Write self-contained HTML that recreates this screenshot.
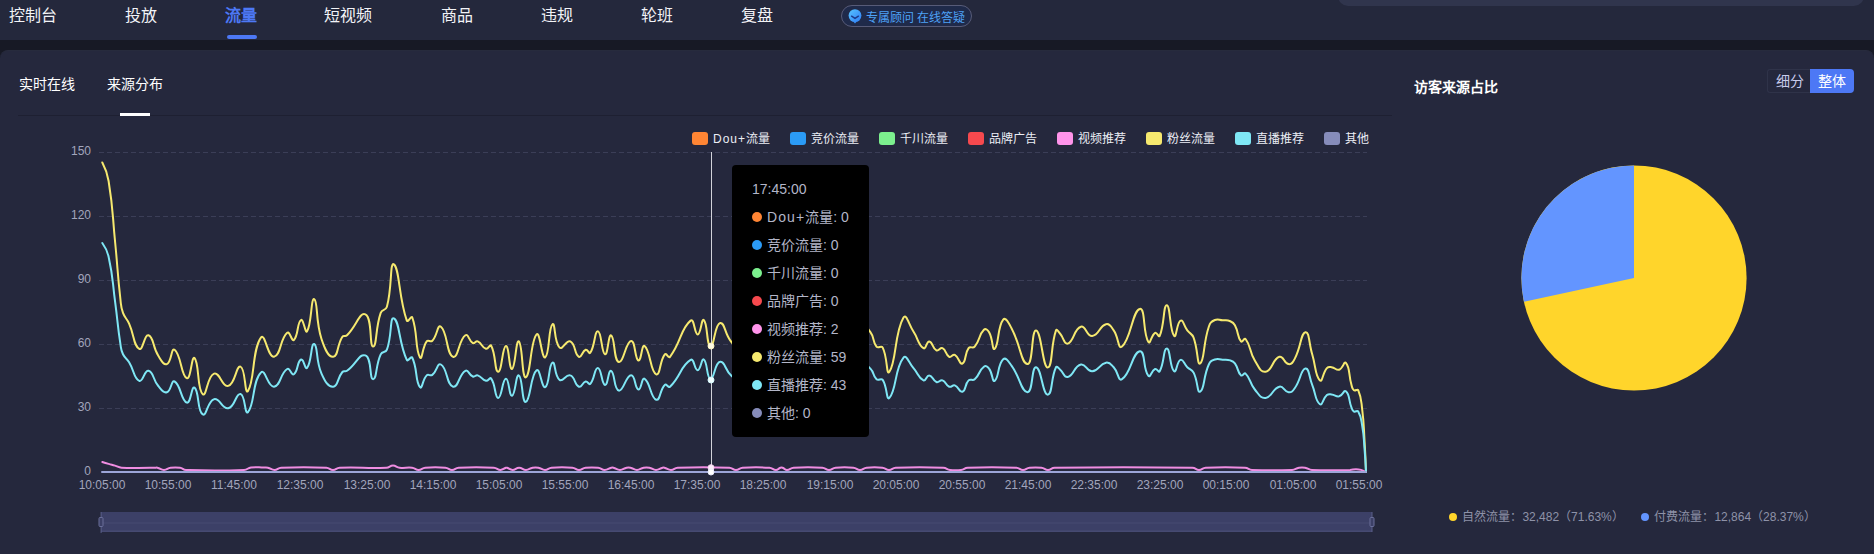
<!DOCTYPE html>
<html lang="zh-CN">
<head>
<meta charset="utf-8">
<title>流量</title>
<style>
*{box-sizing:border-box;margin:0;padding:0}
html,body{width:1874px;height:554px;overflow:hidden;background:#171925}
body{position:relative;font-family:"Liberation Sans",sans-serif;color:#fff}
.nav{position:absolute;left:0;top:0;width:1874px;height:40px;background:#24283c}
.nav .it{position:absolute;top:5px;height:22px;line-height:22px;font-size:16px;color:#f2f3f7;white-space:nowrap}
.nav .it.on{color:#4d78f5;font-weight:bold}
.nav .bar{position:absolute;left:227px;top:35px;width:30px;height:4px;border-radius:2px;background:#4d78f5}
.pill{position:absolute;left:841px;top:5px;width:131px;height:22px;border:1px solid #575b78;border-radius:11px;background:#1f2a4a}
.pill svg{position:absolute;left:6px;top:3px}
.pill span{position:absolute;left:24px;top:1.5px;height:20px;line-height:20px;font-size:12px;color:#4ea2f7;white-space:nowrap}
.topbox{position:absolute;left:1338px;top:-14px;width:526px;height:20px;border-radius:10px;background:#30354d}
.card{position:absolute;left:0;top:50px;width:1874px;height:520px;background:#25283d;border-radius:8px 8px 0 0;border-top:1px solid #272b3d}
.tab{position:absolute;top:74px;height:20px;line-height:20px;font-size:14px;color:#fff;white-space:nowrap}
.tabbar{position:absolute;left:120px;top:113px;width:30px;height:3px;background:#fff}
.divider{position:absolute;left:18px;top:115px;width:1374px;height:1px;background:#1e2032}
.title{position:absolute;left:1414px;top:77px;height:20px;line-height:20px;font-size:14px;font-weight:bold;color:#fff;white-space:nowrap}
.tg{position:absolute;top:69px;height:24px;line-height:22px;font-size:14px;text-align:center;white-space:nowrap}
.tg.a{left:1767px;width:44px;border:1px solid #2f3349;border-right:0;border-radius:3px 0 0 3px;color:#c9ccec}
.tg.b{left:1810px;width:44px;background:#4d78f5;color:#fff;border-radius:0 4px 4px 0;line-height:24px}
.ylab{position:absolute;left:50px;width:41px;text-align:right;font-size:12px;line-height:14px;height:14px;color:#a2a5bc}
.xlab{position:absolute;top:478px;width:66px;text-align:center;font-size:12px;line-height:14px;height:14px;color:#a2a5bc;white-space:nowrap}
.lg{position:absolute;top:130px;height:16px;line-height:16px;font-size:12px;color:#eceef5;white-space:nowrap}
.lg i{position:absolute;left:0;top:2px;width:16px;height:13px;border-radius:3px}
.lg span{position:absolute;left:21px;top:0.5px}
.tip{position:absolute;left:732px;top:165px;width:137px;height:272px;background:#000;border-radius:4px;padding:10px 20px;font-size:14px;line-height:28px;color:#b3b6c8;white-space:nowrap}
.tip i{display:inline-block;width:10px;height:10px;border-radius:50%;margin-right:5px;vertical-align:0}
.plg{position:absolute;top:509px;height:16px;line-height:16px;font-size:12px;color:#8e92a8;white-space:nowrap}
.plg i{position:absolute;left:-13px;top:4px;width:8px;height:8px;border-radius:50%}
svg.chart{position:absolute;left:0;top:0}
</style>
</head>
<body>
<div class="nav">
  <div class="it" style="left:9px">控制台</div>
  <div class="it" style="left:125px">投放</div>
  <div class="it on" style="left:225px">流量</div>
  <div class="it" style="left:324px">短视频</div>
  <div class="it" style="left:441px">商品</div>
  <div class="it" style="left:541px">违规</div>
  <div class="it" style="left:641px">轮班</div>
  <div class="it" style="left:741px">复盘</div>
  <div class="bar"></div>
  <div class="pill">
    <svg width="14" height="15" viewBox="0 0 14 15"><defs><linearGradient id="pg" x1="0" y1="0" x2="1" y2="1"><stop offset="0" stop-color="#58c4ff"/><stop offset="1" stop-color="#2f7df6"/></linearGradient></defs><circle cx="7" cy="6.6" r="6.4" fill="url(#pg)"/><path d="M5 12.2L7 14.4L9 12.2Z" fill="#3a8ef8"/><path d="M3.6 7.2L7 9.4L10.4 7.2" fill="none" stroke="#1d3a8a" stroke-width="1.5" stroke-linecap="round" stroke-linejoin="round"/></svg>
    <span>专属顾问 在线答疑</span>
  </div>
  <div class="topbox"></div>
</div>
<div class="card"></div>
<div class="tab" style="left:19px">实时在线</div>
<div class="tab" style="left:107px">来源分布</div>
<div class="divider"></div>
<div class="tabbar"></div>
<div class="title">访客来源占比</div>
<div class="tg a">细分</div>
<div class="tg b">整体</div>

<div class="ylab" style="top:144px">150</div>
<div class="ylab" style="top:208px">120</div>
<div class="ylab" style="top:272px">90</div>
<div class="ylab" style="top:336px">60</div>
<div class="ylab" style="top:400px">30</div>
<div class="ylab" style="top:464px">0</div>

<svg class="chart" width="1874" height="554" viewBox="0 0 1874 554">
  <g stroke="#3b3e57" stroke-width="1" stroke-dasharray="5 3" fill="none">
    <path d="M99 152.5H1367"/><path d="M99 216.5H1367"/><path d="M99 280.5H1367"/><path d="M99 344.5H1367"/><path d="M99 408.5H1367"/>
  </g>
  <path d="M711.5 152V472" stroke="#d2d3da" stroke-width="1" fill="none"/>
  <g fill="none" stroke-width="2" stroke-linejoin="round" stroke-linecap="round">
    <path d="M102.3 462.0C102.3 462.0 105.4 463.0 108.6 463.9C111.8 464.8 111.8 464.7 115.0 465.6C118.3 466.6 118.1 467.5 121.5 467.7C135.6 468.6 135.8 467.7 150.0 467.7C152.5 467.7 152.5 467.7 155.0 467.7C156.2 467.7 156.2 467.5 157.4 467.7C160.7 468.5 160.7 469.9 164.0 469.9C167.3 469.9 167.2 468.2 170.6 467.7C175.2 467.1 175.4 467.1 180.0 467.7C183.1 468.2 182.8 469.8 186.0 469.9C214.8 470.8 215.2 470.9 244.0 469.9C247.7 469.7 247.4 468.0 251.0 467.5C257.4 466.8 257.5 467.4 264.0 467.5C266.0 467.6 266.0 467.3 267.9 467.7C271.3 468.5 271.2 469.9 274.5 469.9C277.8 469.9 277.7 467.9 281.1 467.7C303.6 466.8 303.9 466.8 326.4 467.7C329.8 467.9 329.7 469.9 333.0 469.9C336.3 469.9 336.2 467.9 339.6 467.7C362.9 466.8 363.1 468.7 386.4 467.7C389.8 467.6 389.7 465.6 393.0 465.6C396.3 465.6 396.2 467.4 399.6 467.7C405.7 468.4 405.9 467.1 412.0 467.7C415.4 468.1 415.3 469.9 418.6 469.9C421.9 469.9 421.8 468.0 425.2 467.7C435.2 467.0 435.4 467.0 445.4 467.7C448.8 468.0 448.7 469.9 452.0 469.9C455.3 469.9 455.2 467.9 458.6 467.7C476.1 466.9 476.4 466.9 493.9 467.7C497.3 467.9 497.2 469.9 500.5 469.9C503.2 469.9 503.2 468.6 505.9 467.7C506.5 467.6 506.5 467.6 507.1 467.7C509.8 468.6 509.8 469.9 512.5 469.9C515.8 469.9 515.8 467.7 519.1 467.7C522.5 467.7 522.6 469.9 526.0 469.9C529.3 469.9 529.2 468.3 532.6 467.7C535.4 467.3 535.6 467.3 538.4 467.7C541.8 468.3 541.7 469.9 545.0 469.9C548.3 469.9 548.2 468.0 551.6 467.7C561.9 466.9 562.1 466.9 572.4 467.7C575.8 468.0 575.7 469.9 579.0 469.9C582.3 469.9 582.2 468.1 585.6 467.7C591.7 467.1 592.0 467.1 598.1 467.7C601.5 468.1 601.4 469.9 604.7 469.9C608.0 469.9 608.0 468.6 611.3 467.7C612.3 467.5 612.4 467.5 613.4 467.7C616.7 468.6 616.7 469.9 620.0 469.9C623.3 469.9 623.2 468.4 626.6 467.7C628.4 467.4 628.6 467.4 630.4 467.7C633.8 468.4 633.7 469.9 637.0 469.9C640.3 469.9 640.2 468.3 643.6 467.7C646.4 467.3 646.6 467.3 649.4 467.7C652.8 468.3 652.7 469.9 656.0 469.9C659.3 469.9 659.3 468.6 662.6 467.7C663.5 467.5 663.5 467.5 664.4 467.7C667.7 468.6 667.7 469.9 671.0 469.9C674.3 469.9 674.2 467.9 677.6 467.7C703.4 466.8 703.6 466.8 729.4 467.7C732.8 467.9 732.7 469.9 736.0 469.9C739.3 469.9 739.2 468.0 742.6 467.7C755.9 466.9 756.1 466.9 769.4 467.7C772.8 468.0 772.8 469.9 776.0 469.9C778.3 469.9 778.1 468.5 780.4 467.7C781.4 467.4 781.6 467.4 782.6 467.7C784.9 468.5 784.7 469.9 787.0 469.9C790.2 469.9 790.2 468.0 793.6 467.7C807.9 466.9 808.1 466.9 822.4 467.7C825.8 468.0 825.7 469.9 829.0 469.9C832.3 469.9 832.2 468.0 835.6 467.7C844.4 467.0 844.6 467.0 853.4 467.7C856.8 468.0 856.7 469.9 860.0 469.9C863.3 469.9 863.2 468.1 866.6 467.7C874.4 467.0 874.6 467.0 882.4 467.7C885.8 468.1 885.7 469.9 889.0 469.9C892.3 469.9 892.2 467.9 895.6 467.7C919.4 466.8 919.6 466.8 943.4 467.7C946.8 467.9 946.6 469.5 950.0 469.9C955.4 470.5 955.6 470.5 961.0 469.9C964.4 469.5 964.2 467.9 967.6 467.7C991.9 466.8 992.1 466.8 1016.4 467.7C1019.8 467.9 1019.7 469.9 1023.0 469.9C1026.3 469.9 1026.2 468.1 1029.6 467.7C1035.4 467.1 1035.6 467.1 1041.4 467.7C1044.8 468.1 1044.7 469.9 1048.0 469.9C1051.3 469.9 1051.1 467.8 1054.6 467.7C1123.3 466.7 1123.7 466.7 1192.4 467.7C1195.9 467.8 1195.7 469.9 1199.0 469.9C1202.3 469.9 1202.2 467.9 1205.6 467.7C1225.2 466.8 1225.4 466.8 1245.0 467.7C1248.6 467.9 1248.4 469.7 1252.0 469.9C1271.9 470.8 1272.1 470.8 1292.0 469.9C1295.6 469.7 1295.4 468.3 1299.0 467.7C1301.9 467.3 1302.1 467.3 1305.0 467.7C1308.6 468.3 1308.4 469.7 1312.0 469.9C1330.9 470.8 1331.0 470.1 1350.0 469.9C1353.0 469.8 1353.0 469.2 1356.0 469.2C1358.5 469.2 1358.6 469.2 1361.0 469.9C1363.6 470.6 1366.0 472.0 1366.0 472.0" stroke="#f08de2"/>
    <path d="M102.3 162.5C102.3 162.5 107.1 171.4 108.6 181.0C113.5 211.6 112.1 212.0 115.2 243.0C118.0 271.5 117.3 271.6 120.5 300.0C121.2 306.5 120.8 306.8 123.0 312.9C125.1 318.6 126.6 318.0 129.1 323.6C134.7 336.0 133.2 345.2 139.3 348.8C142.9 351.0 144.5 333.8 148.5 335.3C154.0 337.3 152.3 346.4 158.3 355.8C161.5 360.8 163.5 365.4 166.9 364.1C171.6 362.4 171.1 347.3 174.6 349.7C181.1 354.3 181.0 375.8 186.8 378.2C190.9 379.9 191.6 355.1 194.5 358.0C199.5 363.0 196.8 389.4 202.8 394.2C206.6 397.2 207.0 375.9 214.1 373.6C219.8 371.8 222.3 387.5 228.2 385.9C235.5 384.0 235.9 365.4 240.5 366.6C245.7 368.0 244.6 395.7 247.9 391.1C254.9 381.2 251.9 349.5 261.1 337.4C264.9 332.4 268.0 357.8 274.0 356.8C281.0 355.5 279.8 339.1 287.2 332.8C289.8 330.6 291.7 341.9 293.9 339.9C298.6 335.5 296.9 322.6 301.0 320.0C303.5 318.3 305.2 334.2 307.1 331.3C311.8 323.8 310.9 297.4 314.2 299.1C318.1 301.2 315.3 320.1 321.5 339.0C324.8 348.9 328.0 357.3 333.2 356.8C338.5 356.2 336.7 345.6 342.4 336.8C343.6 334.9 345.3 337.0 347.0 335.3C356.8 325.8 359.4 311.8 365.4 314.4C372.5 317.5 369.3 347.0 373.1 346.6C377.0 346.3 375.2 328.8 380.7 312.9C382.1 308.9 385.8 310.8 386.9 306.8C392.4 286.6 389.7 261.5 393.9 264.4C399.6 268.4 398.5 296.6 406.8 320.6C407.7 323.2 411.4 315.0 412.3 317.5C418.0 333.4 414.9 349.0 420.0 357.4C422.2 361.0 422.1 347.7 426.7 341.4C428.2 339.4 430.5 342.7 432.3 340.8C437.6 335.3 437.3 324.0 440.9 326.7C447.8 332.0 446.2 354.3 453.1 356.8C458.4 358.6 458.5 340.1 465.4 335.3C468.4 333.2 468.6 340.9 472.8 343.0C474.8 344.0 475.6 340.5 477.7 341.4C482.2 343.4 481.6 347.4 486.0 348.8C488.3 349.6 490.1 343.6 491.2 345.7C496.2 355.1 494.5 371.7 498.2 371.8C501.9 371.9 502.2 346.8 505.9 346.0C509.1 345.4 509.1 370.1 512.0 369.0C515.5 367.8 515.8 339.6 518.8 341.4C522.7 343.8 521.8 378.9 525.8 377.3C530.7 375.4 530.4 340.8 536.6 334.4C540.0 330.8 541.8 359.5 545.2 357.4C549.8 354.4 548.3 327.1 552.5 324.2C555.6 322.2 553.7 341.9 559.6 347.6C562.6 350.5 566.3 339.5 570.3 341.4C576.0 344.1 574.0 354.1 578.9 356.8C581.7 358.2 582.1 351.0 585.7 349.7C587.7 349.0 589.1 354.6 590.3 352.8C595.2 345.4 594.4 330.9 597.9 331.3C601.7 331.7 601.4 353.2 605.0 354.3C608.0 355.2 608.3 333.7 611.1 335.3C615.2 337.5 613.5 360.4 618.8 362.0C623.5 363.3 625.8 341.5 631.1 341.1C635.6 340.8 634.6 359.1 638.4 360.5C641.4 361.5 641.6 343.7 644.6 346.0C650.5 350.6 650.3 371.8 656.2 374.3C660.4 376.0 659.4 361.2 664.8 354.3C666.3 352.5 668.5 358.8 670.0 356.8C681.4 341.9 680.5 328.7 690.6 320.6C694.4 317.5 694.4 334.5 697.7 334.4C701.0 334.2 701.4 317.8 703.8 320.0C707.9 323.6 706.3 345.2 710.5 346.0C714.5 346.8 714.5 324.1 720.1 323.0C725.0 322.1 724.3 333.8 731.4 342.0C736.8 348.3 740.7 354.5 745.0 352.0C751.0 348.5 748.1 330.5 752.0 330.0C755.6 329.5 756.2 351.7 760.0 350.0C765.2 347.7 764.8 322.5 770.0 322.0C774.8 321.5 775.3 348.9 780.0 348.0C785.3 346.9 784.8 318.8 790.0 318.0C794.8 317.3 793.9 343.1 800.0 345.0C804.9 346.6 805.8 326.4 812.0 325.0C816.8 323.9 817.2 341.4 822.0 340.0C828.7 337.9 828.3 318.5 835.0 318.0C841.3 317.5 841.6 336.9 848.0 338.0C853.1 338.9 852.0 323.6 858.0 322.0C863.1 320.7 865.7 326.0 870.4 332.2C875.0 338.3 872.1 341.1 876.5 346.6C878.3 348.8 881.4 345.1 882.7 347.6C887.8 357.7 886.2 376.5 889.4 371.8C896.6 361.4 894.3 333.1 903.5 317.5C906.3 312.8 908.7 324.2 913.3 331.3C918.7 339.5 918.0 344.7 923.5 348.2C926.0 349.8 926.5 341.0 929.3 341.4C932.9 342.0 932.2 348.2 936.4 350.3C938.8 351.6 940.1 347.0 942.5 348.2C946.5 350.2 945.2 354.6 949.2 356.8C951.4 357.9 952.6 353.8 954.8 354.9C959.1 357.2 959.6 364.9 962.4 363.5C966.5 361.5 964.1 354.3 968.6 348.2C970.3 345.8 972.8 348.9 974.7 346.6C980.5 339.7 978.4 335.3 983.9 329.8C985.6 328.1 987.8 329.9 989.1 332.2C993.2 339.4 992.1 351.1 994.7 348.8C999.1 344.8 997.2 327.0 1003.2 319.6C1005.6 316.7 1008.7 323.1 1011.5 328.2C1020.8 345.3 1021.0 363.6 1027.5 364.1C1033.2 364.6 1031.3 329.6 1036.1 330.4C1041.4 331.3 1042.7 367.5 1047.7 367.5C1052.7 367.5 1050.6 345.4 1056.0 330.4C1056.7 328.4 1058.3 331.6 1060.0 333.5C1064.2 338.2 1063.8 344.8 1067.7 343.6C1074.2 341.5 1073.6 329.0 1080.9 326.7C1085.8 325.1 1086.6 336.5 1092.2 335.9C1099.2 335.2 1099.1 326.0 1106.0 324.2C1109.8 323.3 1110.9 326.5 1113.7 330.4C1118.9 337.7 1118.0 349.9 1122.0 346.6C1131.0 339.2 1132.5 310.2 1139.8 308.9C1145.7 307.9 1142.6 333.1 1148.4 342.0C1150.3 345.0 1151.3 334.9 1155.1 332.8C1157.0 331.8 1158.8 338.0 1159.7 335.9C1164.7 324.2 1163.2 305.2 1166.8 305.2C1170.4 305.2 1169.6 330.9 1174.1 335.9C1176.5 338.6 1176.7 322.2 1180.6 320.6C1183.3 319.4 1183.7 325.7 1187.3 330.4C1190.2 334.1 1191.8 333.2 1193.5 337.4C1198.2 349.7 1197.0 365.8 1200.2 363.5C1204.7 360.4 1202.9 344.3 1208.8 326.7C1210.2 322.5 1211.2 321.7 1214.9 320.0C1218.1 318.5 1218.8 320.0 1222.6 320.3C1226.5 320.6 1226.8 319.8 1230.3 321.2C1233.0 322.3 1233.5 322.5 1234.9 325.2C1238.9 332.7 1236.9 336.1 1241.0 341.4C1242.3 343.0 1244.4 337.2 1245.6 339.0C1251.3 346.7 1248.8 350.6 1254.8 360.5C1258.8 367.0 1260.2 372.6 1265.6 371.8C1272.5 370.8 1272.1 359.2 1279.4 356.8C1283.6 355.4 1284.0 363.5 1288.6 364.1C1291.7 364.6 1292.9 362.4 1294.7 358.9C1301.3 346.5 1300.6 333.5 1305.4 332.2C1309.3 331.2 1308.9 343.3 1312.2 354.3C1316.1 367.3 1315.0 375.9 1319.9 380.4C1322.4 382.8 1322.5 373.1 1326.9 368.1C1328.4 366.5 1329.3 366.9 1331.5 367.2C1335.4 367.7 1335.9 370.6 1339.2 369.7C1343.1 368.5 1344.1 360.6 1345.9 362.9C1350.3 368.3 1348.3 374.1 1351.5 385.0C1352.3 387.8 1352.0 388.7 1353.9 390.2C1355.4 391.3 1357.5 388.5 1358.2 390.2C1361.6 398.1 1361.0 399.8 1362.2 409.5C1364.1 424.7 1363.6 424.8 1364.5 440.0C1365.5 456.0 1366.0 472.0 1366.0 472.0" stroke="#f6e96f"/>
    <path d="M102.3 243.0C102.3 243.0 107.0 249.4 108.6 256.7C113.5 279.1 112.1 279.6 115.2 302.5C118.0 323.6 117.3 323.7 120.5 344.7C121.2 349.6 120.9 349.9 123.0 354.3C125.2 358.7 126.5 357.9 129.1 362.2C134.7 371.2 133.4 378.2 139.3 380.8C143.0 382.5 144.4 369.7 148.5 370.8C153.9 372.3 152.5 379.3 158.3 386.0C161.7 390.0 163.3 393.2 166.9 392.2C171.4 390.9 171.1 379.7 174.6 381.5C181.0 384.9 180.9 400.8 186.8 402.6C190.9 403.9 191.5 385.4 194.5 387.6C199.5 391.3 196.9 411.0 202.8 414.4C206.7 416.8 207.4 400.8 214.1 399.2C220.1 397.8 222.0 409.5 228.2 408.3C235.2 406.9 235.7 393.0 240.5 394.0C245.5 395.0 244.6 415.6 247.9 412.2C254.9 404.8 252.1 381.1 261.1 372.4C265.2 368.4 267.9 387.5 274.0 386.7C280.9 385.8 280.0 373.5 287.2 369.0C289.9 367.3 291.5 375.9 293.9 374.2C298.4 371.1 296.9 361.4 301.0 359.5C303.5 358.2 305.1 370.2 307.1 367.9C311.7 362.4 310.9 342.8 314.2 344.0C318.1 345.6 315.5 360.0 321.5 373.6C325.0 381.4 327.9 387.1 333.2 386.7C338.4 386.3 337.0 378.2 342.4 372.0C343.9 370.3 345.1 372.2 347.0 370.8C356.6 363.9 359.0 353.3 365.4 355.4C372.0 357.5 369.3 379.5 373.1 379.2C377.0 378.9 375.4 365.7 380.7 354.3C382.3 350.9 385.6 353.2 386.9 349.7C392.2 335.2 389.7 316.2 393.9 318.4C399.7 321.3 398.7 342.7 406.8 359.9C407.9 362.3 411.2 355.4 412.3 357.7C417.8 369.1 415.0 381.1 420.0 387.2C422.2 389.9 422.4 379.7 426.7 375.4C428.5 373.6 430.2 376.5 432.3 374.9C437.3 371.1 437.2 362.4 440.9 364.5C447.7 368.3 446.3 385.0 453.1 386.7C458.6 388.1 458.7 374.3 465.4 370.8C468.5 369.2 468.8 375.0 472.8 376.5C474.9 377.3 475.5 374.7 477.7 375.4C482.1 376.8 481.7 379.8 486.0 380.8C488.4 381.4 489.8 376.7 491.2 378.6C496.0 385.2 494.6 397.8 498.2 397.9C501.9 397.9 502.2 379.3 505.9 378.8C509.1 378.3 509.1 396.6 512.0 395.8C515.5 394.9 515.8 374.0 518.8 375.4C522.7 377.1 521.8 403.1 525.8 401.9C530.7 400.5 530.4 374.9 536.6 370.2C540.1 367.5 541.8 388.8 545.2 387.2C549.7 385.0 548.4 364.8 552.5 362.7C555.6 361.1 554.1 376.0 559.6 379.9C563.0 382.4 566.0 373.8 570.3 375.4C575.6 377.2 574.1 384.8 578.9 386.7C581.8 387.9 582.1 382.4 585.7 381.5C587.8 381.0 588.9 385.3 590.3 383.8C595.0 378.5 594.3 367.6 597.9 367.9C601.7 368.2 601.4 384.1 605.0 384.9C608.0 385.6 608.2 369.6 611.1 370.8C615.1 372.5 613.6 389.5 618.8 390.6C623.6 391.6 625.7 375.5 631.1 375.2C635.5 374.9 634.6 388.4 638.4 389.5C641.4 390.2 641.6 377.0 644.6 378.8C650.5 382.2 650.3 397.9 656.2 399.7C660.5 400.9 659.6 389.8 664.8 384.9C666.5 383.3 668.2 388.5 670.0 386.7C681.1 376.0 680.5 366.0 690.6 359.9C694.3 357.7 694.3 370.3 697.7 370.2C700.9 370.0 701.4 357.9 703.8 359.5C707.8 362.2 706.4 378.2 710.5 378.8C714.5 379.3 714.6 362.5 720.1 361.8C725.1 361.0 724.7 370.1 731.4 375.8C737.2 380.8 740.2 385.3 745.0 383.2C750.5 380.8 748.2 367.3 752.0 366.9C755.7 366.6 756.2 383.0 760.0 381.7C765.2 380.0 764.9 361.4 770.0 361.0C774.9 360.6 775.3 380.9 780.0 380.2C785.3 379.5 784.8 358.6 790.0 358.0C794.8 357.5 794.1 376.6 800.0 378.0C805.1 379.2 805.8 364.3 812.0 363.2C816.8 362.4 817.2 375.4 822.0 374.3C828.7 372.8 828.3 358.4 835.0 358.0C841.3 357.7 841.6 372.0 848.0 372.8C853.1 373.5 852.2 362.1 858.0 361.0C863.4 360.0 865.4 363.6 870.4 368.6C874.6 372.7 872.4 375.5 876.5 379.2C878.6 381.1 881.1 377.6 882.7 379.9C887.5 387.0 886.2 401.3 889.4 397.9C896.6 390.2 894.5 368.9 903.5 357.7C906.5 353.9 908.7 362.6 913.3 367.9C918.6 373.9 918.1 377.8 923.5 380.4C926.0 381.6 926.4 375.0 929.3 375.4C932.9 375.8 932.4 380.5 936.4 382.0C939.0 383.0 939.9 379.4 942.5 380.4C946.3 381.8 945.4 385.2 949.2 386.7C951.6 387.7 952.4 384.5 954.8 385.4C959.0 387.0 959.4 392.8 962.4 391.7C966.3 390.3 964.4 384.6 968.6 380.4C970.6 378.3 972.5 381.2 974.7 379.2C980.2 374.4 978.6 370.7 983.9 366.7C985.8 365.3 987.6 366.5 989.1 368.6C992.9 373.6 992.1 382.5 994.7 380.8C999.1 377.9 997.4 364.5 1003.2 359.3C1005.9 356.9 1008.5 361.5 1011.5 365.6C1020.6 377.9 1020.9 391.7 1027.5 392.2C1033.1 392.5 1031.3 366.6 1036.1 367.2C1041.4 367.9 1042.6 394.7 1047.7 394.7C1052.6 394.7 1050.7 378.1 1056.0 367.2C1056.9 365.5 1058.3 368.0 1060.0 369.5C1064.1 372.9 1063.8 377.9 1067.7 377.0C1074.2 375.4 1073.8 366.1 1080.9 364.5C1086.0 363.3 1086.6 371.7 1092.2 371.3C1099.2 370.8 1099.1 364.0 1106.0 362.7C1109.8 361.9 1110.7 364.1 1113.7 367.2C1118.6 372.4 1118.0 381.7 1122.0 379.2C1131.0 373.7 1132.4 352.3 1139.8 351.3C1145.6 350.6 1142.8 369.4 1148.4 375.8C1150.4 378.2 1151.4 370.5 1155.1 369.0C1157.1 368.2 1158.7 373.1 1159.7 371.3C1164.5 362.9 1163.2 348.6 1166.8 348.6C1170.4 348.6 1169.7 367.6 1174.1 371.3C1176.6 373.3 1176.8 361.1 1180.6 359.9C1183.4 359.1 1183.8 363.8 1187.3 367.2C1190.2 370.0 1191.6 369.0 1193.5 372.4C1198.1 381.2 1197.0 393.4 1200.2 391.7C1204.7 389.4 1203.0 377.1 1208.8 364.5C1210.4 361.0 1211.4 360.7 1214.9 359.5C1218.3 358.3 1218.8 359.5 1222.6 359.7C1226.4 359.9 1226.7 359.3 1230.3 360.4C1232.8 361.1 1233.3 361.2 1234.9 363.3C1238.7 368.7 1237.1 371.6 1241.0 375.4C1242.5 376.7 1244.2 372.1 1245.6 373.6C1251.1 379.1 1249.1 382.5 1254.8 389.5C1259.1 394.6 1260.2 398.4 1265.6 397.9C1272.5 397.1 1272.2 388.5 1279.4 386.7C1283.7 385.7 1284.0 391.7 1288.6 392.2C1291.7 392.5 1292.7 391.2 1294.7 388.3C1301.1 379.4 1300.6 369.5 1305.4 368.6C1309.3 367.8 1308.9 376.7 1312.2 384.9C1316.1 394.5 1315.1 400.9 1319.9 404.2C1322.5 406.0 1322.8 398.6 1326.9 395.1C1328.6 393.7 1329.2 394.2 1331.5 394.4C1335.4 394.8 1335.7 397.0 1339.2 396.3C1342.9 395.4 1343.9 389.4 1345.9 391.3C1350.1 395.1 1348.3 399.6 1351.5 407.6C1352.3 409.7 1352.2 410.5 1353.9 411.5C1355.6 412.4 1357.3 409.9 1358.2 411.5C1361.4 417.0 1361.0 418.5 1362.2 425.8C1364.1 436.9 1363.6 437.0 1364.5 448.3C1365.5 460.1 1366.0 472.0 1366.0 472.0" stroke="#7fe7f5"/>
    <path d="M102 472H1366" stroke="#9ca5d8"/>
  </g>
  <circle cx="711" cy="346" r="3" fill="#fffbe4" stroke="#fdf6c4" stroke-width="1"/>
  <circle cx="711" cy="380" r="3" fill="#f0fdff" stroke="#d4f8fc" stroke-width="1"/>
  <circle cx="711" cy="467.7" r="3" fill="#fdeefa" stroke="#f8d5f2" stroke-width="1"/>
  <circle cx="711" cy="472" r="3" fill="#fff" stroke="#e8eaf8" stroke-width="1"/>
  <!-- slider -->
  <rect x="101" y="512" width="1271" height="20" fill="#3c4067"/>
  <rect x="101" y="522.5" width="1271" height="1" fill="#464b73"/>
  <rect x="101" y="530.5" width="1271" height="1.5" fill="#464a72"/>
  <rect x="100.6" y="512" width="1" height="21" fill="#5a5f8a"/>
  <rect x="1371.5" y="512" width="1" height="20" fill="#5a5f8a"/>
  <rect x="99" y="517.5" width="4" height="9" rx="1" fill="#3c4067" stroke="#6a6f9a" stroke-width="1"/>
  <rect x="1370" y="517.5" width="4" height="9" rx="1" fill="#3c4067" stroke="#6a6f9a" stroke-width="1"/>
  <!-- pie -->
  <circle cx="1634" cy="278" r="112.6" fill="#ffd52b"/>
  <path d="M1634 278L1523.91 301.66A112.6 112.6 0 0 1 1634 165.4Z" fill="#6395ff"/>
</svg>

<div class="xlab" style="left:69px">10:05:00</div>
<div class="xlab" style="left:135px">10:55:00</div>
<div class="xlab" style="left:201px">11:45:00</div>
<div class="xlab" style="left:267px">12:35:00</div>
<div class="xlab" style="left:334px">13:25:00</div>
<div class="xlab" style="left:400px">14:15:00</div>
<div class="xlab" style="left:466px">15:05:00</div>
<div class="xlab" style="left:532px">15:55:00</div>
<div class="xlab" style="left:598px">16:45:00</div>
<div class="xlab" style="left:664px">17:35:00</div>
<div class="xlab" style="left:730px">18:25:00</div>
<div class="xlab" style="left:797px">19:15:00</div>
<div class="xlab" style="left:863px">20:05:00</div>
<div class="xlab" style="left:929px">20:55:00</div>
<div class="xlab" style="left:995px">21:45:00</div>
<div class="xlab" style="left:1061px">22:35:00</div>
<div class="xlab" style="left:1127px">23:25:00</div>
<div class="xlab" style="left:1193px">00:15:00</div>
<div class="xlab" style="left:1260px">01:05:00</div>
<div class="xlab" style="left:1326px">01:55:00</div>

<div class="lg" style="left:692px"><i style="background:#ff8534"></i><span><b style="font-weight:normal;letter-spacing:1px">Dou+</b>流量</span></div>
<div class="lg" style="left:790px"><i style="background:#2b9bf6"></i><span>竞价流量</span></div>
<div class="lg" style="left:879px"><i style="background:#7cf08e"></i><span>千川流量</span></div>
<div class="lg" style="left:968px"><i style="background:#f6494e"></i><span>品牌广告</span></div>
<div class="lg" style="left:1057px"><i style="background:#ff94ea"></i><span>视频推荐</span></div>
<div class="lg" style="left:1146px"><i style="background:#f6e96f"></i><span>粉丝流量</span></div>
<div class="lg" style="left:1235px"><i style="background:#7fe7f5"></i><span>直播推荐</span></div>
<div class="lg" style="left:1324px"><i style="background:#868cba"></i><span>其他</span></div>

<div class="tip">
  <div>17:45:00</div>
  <div><i style="background:#ff8534"></i><b style="font-weight:normal;letter-spacing:1.1px">Dou+</b>流量: 0</div>
  <div><i style="background:#2b9bf6"></i>竞价流量: 0</div>
  <div><i style="background:#7cf08e"></i>千川流量: 0</div>
  <div><i style="background:#f6494e"></i>品牌广告: 0</div>
  <div><i style="background:#ff94ea"></i>视频推荐: 2</div>
  <div><i style="background:#f6e96f"></i>粉丝流量: 59</div>
  <div><i style="background:#7fe7f5"></i>直播推荐: 43</div>
  <div><i style="background:#868cba"></i>其他: 0</div>
</div>

<div class="plg" style="left:1462.4px"><i style="background:#ffd52b"></i>自然流量：32,482（71.63%）</div>
<div class="plg" style="left:1654.4px"><i style="background:#6395ff"></i>付费流量：12,864（28.37%）</div>
</body>
</html>
